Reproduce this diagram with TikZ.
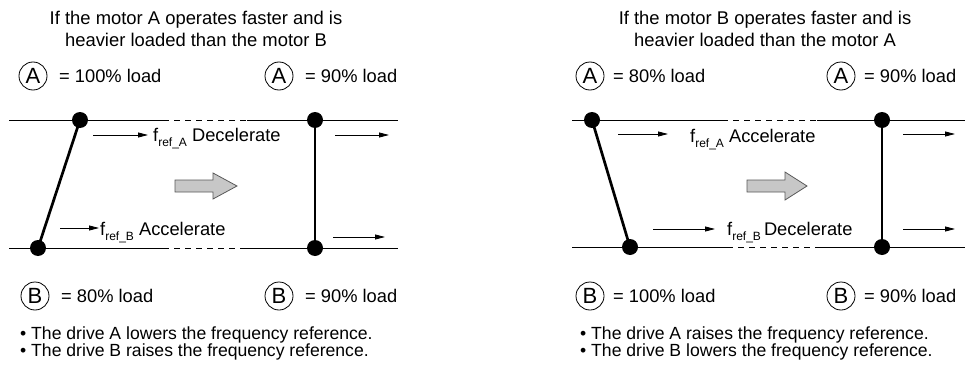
\documentclass[tikz,border=0pt]{standalone}
\usepackage{fontspec}
\setmainfont{Liberation Sans}
\usetikzlibrary{arrows.meta}
\newcommand\subtx[1]{\raisebox{-0.3em}{\fontsize{12}{12}\selectfont #1}}
\begin{document}
\begin{tikzpicture}[x=1pt,y=-1pt,
  lbl/.style={font=\fontsize{18.3}{22}\selectfont, inner sep=0},
  ttl/.style={font=\fontsize{18.4}{22}\selectfont, inner sep=0, align=center},
  bul/.style={font=\fontsize{17.6}{17.5}\selectfont, inner sep=0, align=left, anchor=west},
  circ/.style={circle, draw, line width=0.8, minimum size=28, inner sep=0, font=\fontsize{22}{22}\selectfont},
  dot/.style={circle, fill=black, minimum size=16, inner sep=0},
  rail/.style={line width=0.8},
  railgap/.style={line width=0.8, dash pattern=on 6 off 5},
  link/.style={line width=2.7},
  sarrow/.style={-{Triangle[length=10,width=5]}, line width=0.8},
  bigarrow/.style={fill=black!22, draw=black!65, line width=0.8, line join=miter}
]
\useasboundingbox (0,0) rectangle (970,372);

% ================= LEFT PANEL =================
\node[ttl] (t1) at (196,29) {If the motor A operates faster and is\\heavier loaded than the motor B};

\node[circ] (ca1) at (33,76) {A};
\node[lbl, anchor=west] (la1) at (59,76) {= 100\% load};
\node[circ] (ca2) at (279,76) {A};
\node[lbl, anchor=west] (la2) at (305,76) {= 90\% load};
\node[circ] (cb1) at (35,296) {B};
\node[lbl, anchor=west] (lb1) at (61,296) {= 80\% load};
\node[circ] (cb2) at (279,296) {B};
\node[lbl, anchor=west] (lb2) at (305,296) {= 90\% load};

% rails
\coordinate (lt0) at (9,120);   \coordinate (lt1) at (163,120);
\coordinate (lt2) at (247,120); \coordinate (lt3) at (398,120);
\coordinate (lb0) at (9,248);   \coordinate (lb1c) at (163,248);
\coordinate (lb2c) at (245,248); \coordinate (lb3) at (398,248);
\draw[rail] (lt0) -- (lt1);
\draw[railgap] (lt1) -- (lt2);
\draw[rail] (lt2) -- (lt3);
\draw[rail] (lb0) -- (lb1c);
\draw[railgap] (lb1c) -- (lb2c);
\draw[rail] (lb2c) -- (lb3);

\node[dot] (d1) at (80,120) {};
\node[dot] (d2) at (38,248) {};
\node[dot] (d3) at (315,120) {};
\node[dot] (d4) at (315,248) {};
\draw[link] (d1.center) -- (d2.center);
\draw[link] (d3.center) -- (d4.center);

% small arrows
\coordinate (a1s) at (93,135);  \coordinate (a1e) at (148,135);
\coordinate (a2s) at (335,135); \coordinate (a2e) at (389,135);
\coordinate (a3s) at (60,228);  \coordinate (a3e) at (99,228);
\coordinate (a4s) at (333,237); \coordinate (a4e) at (385,237);
\draw[sarrow] (a1s) -- (a1e);
\draw[sarrow] (a2s) -- (a2e);
\draw[sarrow] (a3s) -- (a3e);
\draw[sarrow] (a4s) -- (a4e);

\node[lbl, anchor=base west] (f1) at (153,141) {f\subtx{ref\_A} Decelerate};
\node[lbl, anchor=base west] (f2) at (100,235) {f\subtx{ref\_B} Accelerate};

% big arrow
\draw[bigarrow] (175,180) -- (213,180) -- (213,173) -- (237,186) -- (213,199) -- (213,192) -- (175,192) -- cycle;

\node[bul] (bl1) at (20,343.5) {\textbullet{} The drive A lowers the frequency reference.\\\textbullet{} The drive B raises the frequency reference.};

% ================= RIGHT PANEL =================
\node[ttl] (t2) at (765,29) {If the motor B operates faster and is\\heavier loaded than the motor A};

\node[circ] (ca3) at (590,76) {A};
\node[lbl, anchor=west] (la3) at (613,76) {= 80\% load};
\node[circ] (ca4) at (841,76) {A};
\node[lbl, anchor=west] (la4) at (864,76) {= 90\% load};
\node[circ] (cb3) at (590,296) {B};
\node[lbl, anchor=west] (lb3t) at (613,296) {= 100\% load};
\node[circ] (cb4) at (841,296) {B};
\node[lbl, anchor=west] (lb4) at (864,296) {= 90\% load};

\coordinate (rt0) at (572,120); \coordinate (rt1) at (722,120);
\coordinate (rt2) at (817,120); \coordinate (rt3) at (965,120);
\coordinate (rb0) at (572,247); \coordinate (rb1) at (727,247);
\coordinate (rb2) at (815,247); \coordinate (rb3) at (965,247);
\draw[rail] (rt0) -- (rt1);
\draw[railgap] (rt1) -- (rt2);
\draw[rail] (rt2) -- (rt3);
\draw[rail] (rb0) -- (rb1);
\draw[railgap] (rb1) -- (rb2);
\draw[rail] (rb2) -- (rb3);

\node[dot] (d5) at (592,120) {};
\node[dot] (d6) at (630,247) {};
\node[dot] (d7) at (882,120) {};
\node[dot] (d8) at (882,247) {};
\draw[link] (d5.center) -- (d6.center);
\draw[link] (d7.center) -- (d8.center);

\coordinate (a5s) at (618,134); \coordinate (a5e) at (668,134);
\coordinate (a6s) at (903,134); \coordinate (a6e) at (955,134);
\coordinate (a7s) at (653,229); \coordinate (a7e) at (715,229);
\coordinate (a8s) at (903,229); \coordinate (a8e) at (955,229);
\draw[sarrow] (a5s) -- (a5e);
\draw[sarrow] (a6s) -- (a6e);
\draw[sarrow] (a7s) -- (a7e);
\draw[sarrow] (a8s) -- (a8e);

\node[lbl, anchor=base west] (f3) at (690,142) {f\subtx{ref\_A} Accelerate};
\node[lbl, anchor=base west] (f4) at (727,235) {f\subtx{ref\_B}\,Decelerate};

\draw[bigarrow] (747,180) -- (785,180) -- (785,172) -- (807,186) -- (785,200) -- (785,192) -- (747,192) -- cycle;

\node[bul] (bl2) at (580,343.5) {\textbullet{} The drive A raises the frequency reference.\\\textbullet{} The drive B lowers the frequency reference.};
\end{tikzpicture}
\end{document}
